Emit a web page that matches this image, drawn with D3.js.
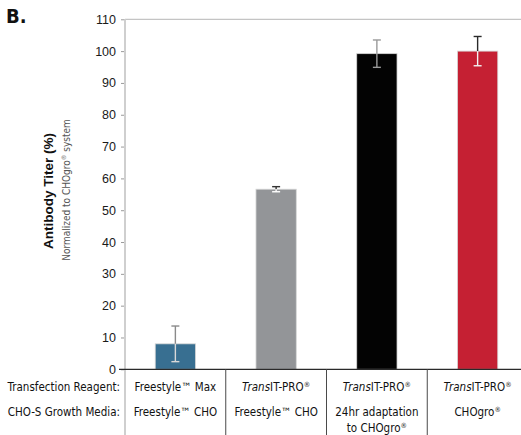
<!DOCTYPE html>
<html>
<head>
<meta charset="utf-8">
<script src="https://cdn.jsdelivr.net/npm/d3@7"></script>
<style>
  html, body { margin: 0; padding: 0; background: #fff; }
  svg { display: block; }
  .cond { font-family: "DejaVu Sans Condensed", "Liberation Sans Narrow", sans-serif; font-stretch: condensed; }
  .narrow { font-family: "Liberation Sans Narrow", "DejaVu Sans Condensed", sans-serif; font-stretch: condensed; }
  .sans { font-family: "Liberation Sans", Arial, Helvetica, sans-serif; }
</style>
</head>
<body>
<svg id="chart" width="521" height="435"></svg>
<script>
// Antibody titer per transfection condition, normalized to the CHOgro system (%)
const conditions = ["fsMax", "transitFs", "transitAdapt", "transitCHOgro"];
const titers = [8, 56.6, 99.2, 100];
const errors = [5.6, 0.8, 4.3, 4.6];
const reagents = ["Freestyle™ Max", "TransIT-PRO®", "TransIT-PRO®", "TransIT-PRO®"];
const media = [["Freestyle™ CHO"], ["Freestyle™ CHO"], ["24hr adaptation", "to CHOgro®"], ["CHOgro®"]];
const yTicks = [0, 10, 20, 30, 40, 50, 60, 70, 80, 90, 100, 110];
const rowLabels = ["Transfection Reagent:", "CHO-S Growth Media:"];

const barColors = ["#386f91", "#939598", "#030303", "#c52033"];
const errUpper = ["#8a8a8a", "#333333", "#9a9a9a", "#2a2a2a"];
const errLower = ["#d8d8d8", "#ffffff", "#9a9a9a", "#f2f2f2"];

const svg = d3.select("#chart");
const W = 521, H = 435;
const x0 = 125;

const x = d3.scaleBand()
  .domain(conditions)
  .range([x0, 528])
  .paddingInner(0.6)
  .paddingOuter(0.3);

const y = d3.scaleLinear().domain([0, 110]).range([369.3, 19.3]);

// Panel letter
svg.append("text")
  .attr("class", "cond")
  .attr("x", 6).attr("y", 23)
  .attr("font-size", 20).attr("font-weight", "bold")
  .attr("fill", "#111")
  .text("B.");

// Top frame line at the axis maximum
svg.append("line")
  .attr("x1", x0).attr("x2", W)
  .attr("y1", y(110)).attr("y2", y(110))
  .attr("stroke", "#c4c4c4").attr("stroke-width", 1.2);

// Y axis
const yAxis = d3.axisLeft(y).tickValues(yTicks).tickSize(4).tickPadding(5);
const gy = svg.append("g")
  .attr("transform", `translate(${x0},0)`)
  .call(yAxis);
gy.select(".domain").remove();
gy.selectAll(".tick line").attr("stroke", "#9a9a9a");
gy.selectAll(".tick text")
  .attr("class", "sans")
  .attr("font-size", 12.5)
  .attr("fill", "#1a1a1a");

// Vertical axis line, continuing down through the label table
svg.append("line")
  .attr("x1", x0).attr("x2", x0)
  .attr("y1", y(110)).attr("y2", H)
  .attr("stroke", "#cfcfcf").attr("stroke-width", 2);

// Bars
svg.append("g").selectAll("rect")
  .data(conditions)
  .join("rect")
  .attr("x", d => x(d))
  .attr("y", (d, i) => y(titers[i]))
  .attr("width", x.bandwidth())
  .attr("height", (d, i) => y(0) - y(titers[i]))
  .attr("fill", (d, i) => barColors[i])
  .attr("stroke", "#d6d6d6").attr("stroke-width", 0.8);

// Error bars: part above the bar top and part inside the bar
const eg = svg.append("g");
conditions.forEach((c, i) => {
  const cx = x(c) + x.bandwidth() / 2;
  const top = y(titers[i] + errors[i]);
  const mid = y(titers[i]);
  const bot = y(titers[i] - errors[i]);
  eg.append("line").attr("x1", cx).attr("x2", cx).attr("y1", top).attr("y2", mid)
    .attr("stroke", errUpper[i]).attr("stroke-width", 1.4);
  eg.append("line").attr("x1", cx - 4).attr("x2", cx + 4).attr("y1", top).attr("y2", top)
    .attr("stroke", errUpper[i]).attr("stroke-width", 1.4);
  eg.append("line").attr("x1", cx).attr("x2", cx).attr("y1", mid).attr("y2", bot)
    .attr("stroke", errLower[i]).attr("stroke-width", 1.4);
  eg.append("line").attr("x1", cx - 4).attr("x2", cx + 4).attr("y1", bot).attr("y2", bot)
    .attr("stroke", errLower[i]).attr("stroke-width", 1.4);
});

// X axis baseline
svg.append("line")
  .attr("x1", 119).attr("x2", W)
  .attr("y1", y(0)).attr("y2", y(0))
  .attr("stroke", "#2a2a2a").attr("stroke-width", 1.2);

// Column separators in the label table
svg.append("g").selectAll("line")
  .data(conditions.slice(1))
  .join("line")
  .attr("x1", d => x(d) - x.step() * x.paddingInner() / 2)
  .attr("x2", d => x(d) - x.step() * x.paddingInner() / 2)
  .attr("y1", y(0)).attr("y2", H)
  .attr("stroke", "#4a4a4a").attr("stroke-width", 1);

// Renders a label: "Trans" prefix in italics and "®" as a superscript
function richText(sel, str) {
  let rest = str;
  if (rest.startsWith("Trans")) {
    sel.append("tspan").attr("font-style", "italic").text("Trans");
    rest = rest.slice(5);
  }
  const parts = rest.split("®");
  parts.forEach((p, k) => {
    if (p) sel.append("tspan").text(p);
    if (k < parts.length - 1) {
      sel.append("tspan").attr("font-size", "0.62em").attr("baseline-shift", "60%").text("®");
    }
  });
}

const rowY = [391, 416];
const lineGap = 16;

// Row headers
svg.append("g").selectAll("text")
  .data(rowLabels)
  .join("text")
  .attr("class", "cond")
  .attr("x", 120).attr("y", (d, i) => rowY[i])
  .attr("text-anchor", "end")
  .attr("font-size", 11.5)
  .attr("fill", "#111")
  .text(d => d);

// Reagent row
svg.append("g").selectAll("text")
  .data(conditions)
  .join("text")
  .attr("class", "cond")
  .attr("x", d => x(d) + x.bandwidth() / 2)
  .attr("y", rowY[0])
  .attr("text-anchor", "middle")
  .attr("font-size", 11.5)
  .attr("fill", "#111")
  .each(function (d, i) { richText(d3.select(this), reagents[i]); });

// Growth media row
conditions.forEach((c, i) => {
  media[i].forEach((line, k) => {
    const t = svg.append("text")
      .attr("class", "cond")
      .attr("x", x(c) + x.bandwidth() / 2)
      .attr("y", rowY[1] + k * lineGap)
      .attr("text-anchor", "middle")
      .attr("font-size", 11.5)
      .attr("fill", "#111");
    richText(t, line);
  });
});

// Y axis titles
svg.append("text")
  .attr("class", "sans")
  .attr("transform", "translate(53,191) rotate(-90)")
  .attr("text-anchor", "middle")
  .attr("font-size", 13.5)
  .attr("font-weight", "bold")
  .attr("fill", "#111")
  .text("Antibody Titer (%)");

const sub = svg.append("text")
  .attr("class", "narrow")
  .attr("transform", "translate(69.5,190) rotate(-90)")
  .attr("text-anchor", "middle")
  .attr("font-size", 10)
  .attr("fill", "#555");
richText(sub, "Normalized to CHOgro® system");
</script>
</body>
</html>
